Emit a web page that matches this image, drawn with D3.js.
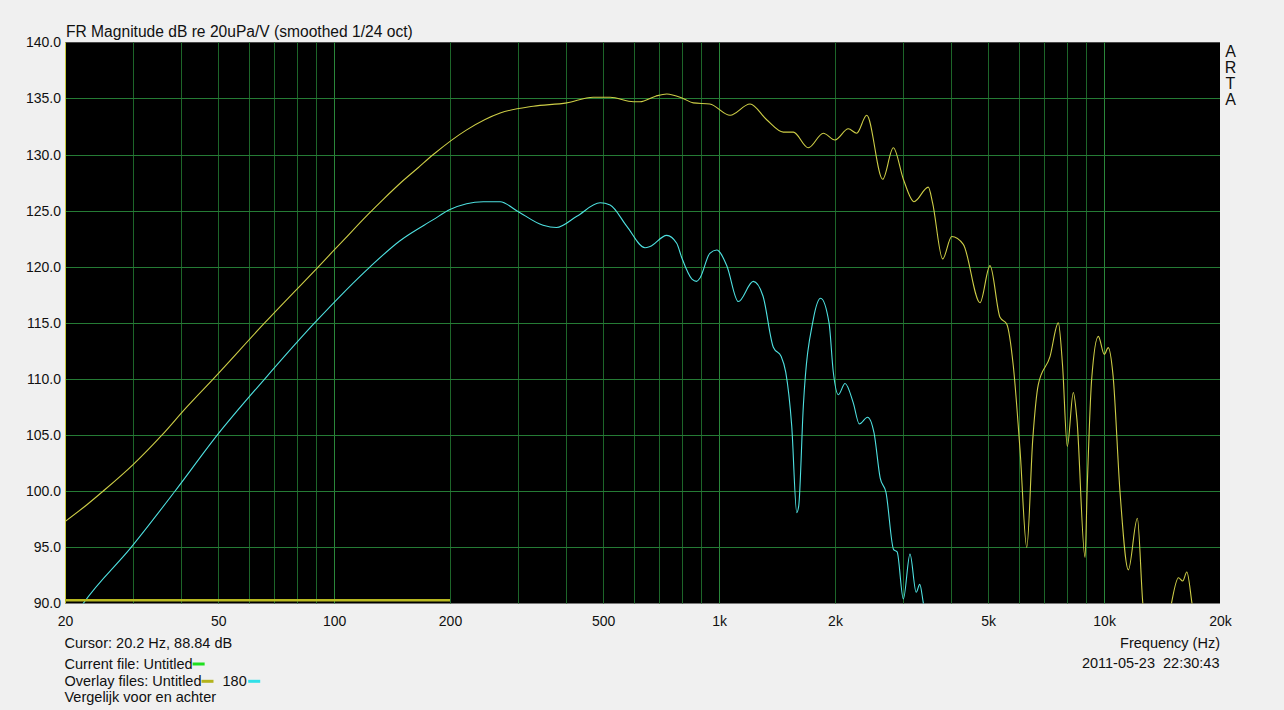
<!DOCTYPE html>
<html><head><meta charset="utf-8">
<script src="https://cdn.jsdelivr.net/npm/d3@7"></script>
<style>
body{margin:0;background:#f0f0f0;}
svg{display:block;}
text{font-family:"Liberation Sans",Arial,sans-serif;fill:#111;}
</style>
</head><body>
<svg id="chart" width="1284" height="710"></svg>
<script>
// ---- data ----
const titleText = "FR Magnitude dB re 20uPa/V (smoothed 1/24 oct)";
const yTickValues = [90,95,100,105,110,115,120,125,130,135,140];
const xTickValues = [20,50,100,200,500,1000,2000,5000,10000,20000];
const xTickLabels = ["20","50","100","200","500","1k","2k","5k","10k","20k"];
const gridFreqs = [20,30,40,50,60,70,80,90,100,200,300,400,500,600,700,800,900,1000,2000,3000,4000,5000,6000,7000,8000,9000,10000,20000];
const decadeFreqs = [100,1000,10000];

// overlay "Untitled" (yellow)
const frontFreq = [20,22.8,25.1,30.1,35.7,41.4,48.5,66,91,106,122,135,148,165,181,221,270,329,402,471,521,599,623,684,731,806,857,946,1068,1203,1329,1468,1559,1705,1865,2000,2166,2277,2418,2660,2835,3010,3208,3494,3585,3808,4020,4308,4762,5054,5366,5585,5808,6048,6297,6526,6746,7236,7604,7800,8024,8318,8500,8922,9042,9284,9660,10012,10250,10550,11000,11560,12200,12600,13200,14400,14980,15600,16000,16400,16900,17500,20000];
const frontDb   = [97.3,98.8,100.0,102.4,105.0,107.5,110.0,115.0,120.0,122.4,124.6,126.1,127.4,128.8,130.0,132.2,133.7,134.3,134.6,135.1,135.1,134.7,134.7,135.2,135.4,135.0,134.6,134.5,133.5,134.5,133.1,132.0,132.0,130.6,131.9,131.3,132.3,131.9,133.5,127.8,130.6,127.8,125.8,127.1,125.7,120.7,122.7,122.0,116.8,120.1,115.5,114.9,111.2,103.7,95.0,104.6,109.5,112.0,115.0,111.2,104.0,108.8,106.4,94.1,100.5,110.0,113.8,112.2,112.8,110.3,99.9,93.0,97.6,90.1,86,86,90.1,92.3,92.0,92.8,90.1,86,84];

// overlay "180" (cyan)
const rearFreq = [20,22.3,29.7,38.6,49.7,66,89,124,148,181,200,244,270,298,349,378,427,491,521,576,642,661,731,776,800,850,874,892,946,986,1047,1122,1227,1300,1384,1450,1490,1544,1591,1610,1655,1756,1836,1930,1980,2040,2124,2230,2313,2430,2526,2620,2713,2840,2900,3010,3132,3250,3320,3390,3500,3700];
const rearDb   = [87.5,90.0,95.0,100.0,105.0,110.0,115.0,120.0,122.3,124.2,125.1,125.8,125.8,125.0,123.7,123.5,124.5,125.7,125.5,123.6,121.7,121.8,122.8,122.1,120.8,118.9,118.7,119.0,121.2,121.5,120.1,116.9,118.7,117.4,112.8,112.0,110.6,105.8,98.1,98.7,107.6,115.3,117.2,115.0,110.6,108.6,109.6,107.9,106.0,106.6,105.2,101.2,99.9,94.8,94.6,90.4,94.4,91.0,91.7,90.1,87,85];

// thick baseline trace
const baseFreq = [20,200];
const baseDb = [90.3,90.3];

// ---- layout ----
const L = 65, R = 1220, T = 42.3, B = 603.5;
const svg = d3.select("#chart");
const x = d3.scaleLog().domain([20,20000]).range([L,R]);
const y = d3.scaleLinear().domain([90,140]).range([B,T]);

svg.append("rect").attr("x",0).attr("y",0).attr("width",1284).attr("height",710).attr("fill","#f0f0f0");
svg.append("rect").attr("x",L).attr("y",T).attr("width",R-L).attr("height",B-T).attr("fill","#000");

// grid
const g = svg.append("g");
g.selectAll("line.v").data(gridFreqs.filter(f=>f>20 && f<20000)).join("line")
  .attr("x1",d=>Math.round(x(d))+0.5).attr("x2",d=>Math.round(x(d))+0.5)
  .attr("y1",T).attr("y2",B)
  .attr("stroke",d=>decadeFreqs.includes(d)?"#2a863a":"#1d6529").attr("stroke-width",1);
g.selectAll("line.h").data(yTickValues.filter(v=>v>90 && v<140)).join("line")
  .attr("x1",L).attr("x2",R)
  .attr("y1",d=>Math.round(y(d))+0.5).attr("y2",d=>Math.round(y(d))+0.5)
  .attr("stroke","#257b35").attr("stroke-width",1);

// left edge yellow line
svg.append("line").attr("x1",L+0.5).attr("x2",L+0.5).attr("y1",T).attr("y2",B)
  .attr("stroke","#c8c83c").attr("stroke-width",1);

// clip
svg.append("clipPath").attr("id","clip").append("rect")
  .attr("x",L).attr("y",T).attr("width",R-L).attr("height",B-T);

const line = d3.line().x(d=>x(d[0])).y(d=>y(d[1])).curve(d3.curveMonotoneX);
const curves = svg.append("g").attr("clip-path","url(#clip)");
curves.append("path").datum(d3.zip(frontFreq,frontDb)).attr("d",line)
  .attr("fill","none").attr("stroke","#cdcd46").attr("stroke-width",1.1);
curves.append("path").datum(d3.zip(rearFreq,rearDb)).attr("d",line)
  .attr("fill","none").attr("stroke","#4ee0e0").attr("stroke-width",1.1);
curves.append("path").datum(d3.zip(baseFreq,baseDb)).attr("d",d3.line().x(d=>x(d[0])).y(d=>y(d[1])))
  .attr("fill","none").attr("stroke","#b8b820").attr("stroke-width",2.5);

// axes
const ya = svg.append("g").attr("transform",`translate(${L},0)`)
  .call(d3.axisLeft(y).tickValues(yTickValues).tickFormat(d=>d.toFixed(1)).tickSize(0).tickPadding(4));
ya.select(".domain").remove();
ya.selectAll("text").attr("font-size","14px").attr("fill","#111").style("font-family","'Liberation Sans',Arial,sans-serif");

const xa = svg.append("g").attr("transform",`translate(0,${B})`)
  .call(d3.axisBottom(x).tickValues(xTickValues).tickFormat((d,i)=>xTickLabels[i]).tickSize(0).tickPadding(12.5));
xa.select(".domain").remove();
xa.selectAll("text").attr("font-size","14px").attr("fill","#111").style("font-family","'Liberation Sans',Arial,sans-serif");

// title
svg.append("text").attr("x",66).attr("y",36.7).attr("font-size","15.6px").text(titleText);

// ARTA
["A","R","T","A"].forEach((c,i)=>{
  svg.append("text").attr("x",1230.5).attr("y",56.7+i*16.1).attr("text-anchor","middle").attr("font-size","16px").text(c);
});

// bottom info
const fs = "14.5px";
svg.append("text").attr("x",64.5).attr("y",648.3).attr("font-size",fs).text("Cursor: 20.2 Hz, 88.84 dB");
const cf = svg.append("text").attr("x",64.5).attr("y",669).attr("font-size",fs).text("Current file: Untitled");
const cfw = cf.node().getComputedTextLength();
svg.append("rect").attr("x",64.5+cfw).attr("y",662.5).attr("width",12).attr("height",3).attr("fill","#1ee01e");
const of1 = svg.append("text").attr("x",64.5).attr("y",685.7).attr("font-size",fs).text("Overlay files: Untitled");
const ofw = of1.node().getComputedTextLength();
svg.append("rect").attr("x",64.5+ofw).attr("y",679.8).attr("width",12).attr("height",3).attr("fill","#b4b41e");
const t180 = svg.append("text").attr("x",64.5+ofw+21).attr("y",685.7).attr("font-size",fs).text("180");
const tw = t180.node().getComputedTextLength();
svg.append("rect").attr("x",64.5+ofw+21+tw+1.5).attr("y",679.8).attr("width",12).attr("height",3).attr("fill","#30e0e8");
svg.append("text").attr("x",64.5).attr("y",702).attr("font-size",fs).text("Vergelijk voor en achter");

svg.append("text").attr("x",1220).attr("y",648.3).attr("text-anchor","end").attr("font-size",fs).text("Frequency (Hz)");
svg.append("text").attr("x",1219.5).attr("y",668.3).attr("text-anchor","end").attr("font-size",fs).style("white-space","pre").text("2011-05-23  22:30:43");
</script>
</body></html>
